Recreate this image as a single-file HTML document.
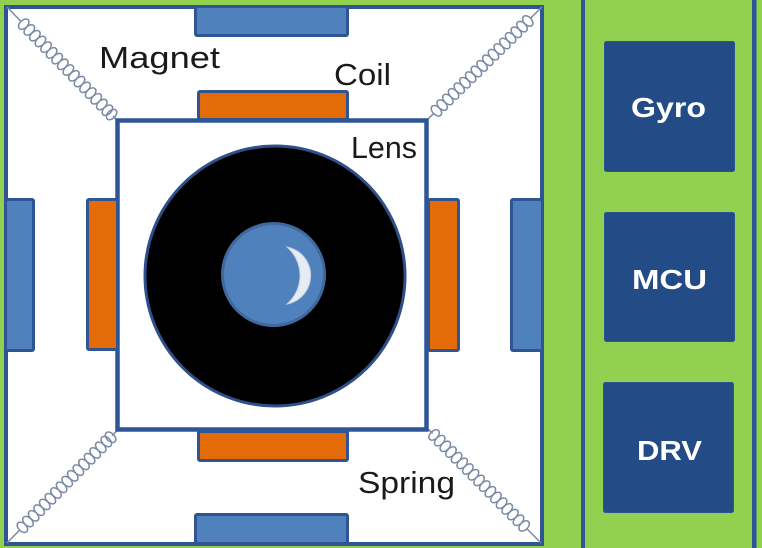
<!DOCTYPE html>
<html>
<head>
<meta charset="utf-8">
<style>
html,body{margin:0;padding:0;background:#92D050;}
svg{display:block;}
text{font-family:"Liberation Sans",sans-serif;}
</style>
</head>
<body>
<svg width="762" height="548" viewBox="0 0 762 548" xmlns="http://www.w3.org/2000/svg">
  <rect x="0" y="0" width="762" height="548" fill="#92D050"/>
  <!-- right panel lines -->
  <rect x="581" y="0" width="4" height="548" fill="#2F5597"/>
  <rect x="752" y="0" width="4.5" height="548" fill="#2F5597"/>
  <!-- outer square -->
  <rect x="6" y="7" width="536" height="537" fill="#ffffff" stroke="#2F5597" stroke-width="4"/>

  <!-- springs -->
  <g fill="none" stroke="#7A8AA3" stroke-width="1.5">
    <g transform="translate(7,7) rotate(45.8)">
      <line x1="0" y1="0" x2="20" y2="0"/>
      <line x1="152" y1="0" x2="158" y2="0"/>
      <ellipse cx="24" cy="0" rx="4" ry="6.2"/><ellipse cx="32" cy="0" rx="4" ry="6.2"/><ellipse cx="40" cy="0" rx="4" ry="6.2"/><ellipse cx="48" cy="0" rx="4" ry="6.2"/><ellipse cx="56" cy="0" rx="4" ry="6.2"/><ellipse cx="64" cy="0" rx="4" ry="6.2"/><ellipse cx="72" cy="0" rx="4" ry="6.2"/><ellipse cx="80" cy="0" rx="4" ry="6.2"/><ellipse cx="88" cy="0" rx="4" ry="6.2"/><ellipse cx="96" cy="0" rx="4" ry="6.2"/><ellipse cx="104" cy="0" rx="4" ry="6.2"/><ellipse cx="112" cy="0" rx="4" ry="6.2"/><ellipse cx="120" cy="0" rx="4" ry="6.2"/><ellipse cx="128" cy="0" rx="4" ry="6.2"/><ellipse cx="136" cy="0" rx="4" ry="6.2"/><ellipse cx="144" cy="0" rx="4" ry="6.2"/><ellipse cx="150" cy="0" rx="4" ry="6.2"/>
    </g>
    <g transform="translate(542,7) rotate(135.5)">
      <line x1="0" y1="0" x2="16" y2="0"/>
      <line x1="152" y1="0" x2="161" y2="0"/>
      <ellipse cx="20" cy="0" rx="4" ry="6.2"/><ellipse cx="28" cy="0" rx="4" ry="6.2"/><ellipse cx="36" cy="0" rx="4" ry="6.2"/><ellipse cx="44" cy="0" rx="4" ry="6.2"/><ellipse cx="52" cy="0" rx="4" ry="6.2"/><ellipse cx="60" cy="0" rx="4" ry="6.2"/><ellipse cx="68" cy="0" rx="4" ry="6.2"/><ellipse cx="76" cy="0" rx="4" ry="6.2"/><ellipse cx="84" cy="0" rx="4" ry="6.2"/><ellipse cx="92" cy="0" rx="4" ry="6.2"/><ellipse cx="100" cy="0" rx="4" ry="6.2"/><ellipse cx="108" cy="0" rx="4" ry="6.2"/><ellipse cx="116" cy="0" rx="4" ry="6.2"/><ellipse cx="124" cy="0" rx="4" ry="6.2"/><ellipse cx="132" cy="0" rx="4" ry="6.2"/><ellipse cx="140" cy="0" rx="4" ry="6.2"/><ellipse cx="148" cy="0" rx="4" ry="6.2"/>
    </g>
    <g transform="translate(7,543) rotate(-45.6)">
      <line x1="0" y1="0" x2="18" y2="0"/>
      <line x1="150" y1="0" x2="158" y2="0"/>
      <ellipse cx="22" cy="0" rx="4" ry="6.2"/><ellipse cx="30" cy="0" rx="4" ry="6.2"/><ellipse cx="38" cy="0" rx="4" ry="6.2"/><ellipse cx="46" cy="0" rx="4" ry="6.2"/><ellipse cx="54" cy="0" rx="4" ry="6.2"/><ellipse cx="62" cy="0" rx="4" ry="6.2"/><ellipse cx="70" cy="0" rx="4" ry="6.2"/><ellipse cx="78" cy="0" rx="4" ry="6.2"/><ellipse cx="86" cy="0" rx="4" ry="6.2"/><ellipse cx="94" cy="0" rx="4" ry="6.2"/><ellipse cx="102" cy="0" rx="4" ry="6.2"/><ellipse cx="110" cy="0" rx="4" ry="6.2"/><ellipse cx="118" cy="0" rx="4" ry="6.2"/><ellipse cx="126" cy="0" rx="4" ry="6.2"/><ellipse cx="134" cy="0" rx="4" ry="6.2"/><ellipse cx="142" cy="0" rx="4" ry="6.2"/><ellipse cx="148" cy="0" rx="4" ry="6.2"/>
    </g>
    <g transform="translate(541,543) rotate(-134.7)">
      <line x1="0" y1="0" x2="20" y2="0"/>
      <line x1="154" y1="0" x2="160" y2="0"/>
      <ellipse cx="24" cy="0" rx="4" ry="6.2"/><ellipse cx="32" cy="0" rx="4" ry="6.2"/><ellipse cx="40" cy="0" rx="4" ry="6.2"/><ellipse cx="48" cy="0" rx="4" ry="6.2"/><ellipse cx="56" cy="0" rx="4" ry="6.2"/><ellipse cx="64" cy="0" rx="4" ry="6.2"/><ellipse cx="72" cy="0" rx="4" ry="6.2"/><ellipse cx="80" cy="0" rx="4" ry="6.2"/><ellipse cx="88" cy="0" rx="4" ry="6.2"/><ellipse cx="96" cy="0" rx="4" ry="6.2"/><ellipse cx="104" cy="0" rx="4" ry="6.2"/><ellipse cx="112" cy="0" rx="4" ry="6.2"/><ellipse cx="120" cy="0" rx="4" ry="6.2"/><ellipse cx="128" cy="0" rx="4" ry="6.2"/><ellipse cx="136" cy="0" rx="4" ry="6.2"/><ellipse cx="144" cy="0" rx="4" ry="6.2"/><ellipse cx="152" cy="0" rx="4" ry="6.2"/>
    </g>
  </g>

  <!-- inner square -->
  <rect x="117.5" y="120.5" width="309" height="309" fill="#ffffff" stroke="#2F5597" stroke-width="4.5"/>

  <!-- magnets -->
  <g fill="#4F81BD" stroke="#2F5597" stroke-width="3">
    <rect x="195.5" y="6.5" width="152" height="29" rx="1.5"/>
    <rect x="195.5" y="514.5" width="152" height="29" rx="1.5"/>
    <rect x="5.5" y="199.5" width="28" height="151" rx="1.5"/>
    <rect x="511.5" y="199.5" width="31" height="151" rx="1.5"/>
  </g>
  <!-- coils -->
  <g fill="#E36C09" stroke="#2F5597" stroke-width="3">
    <rect x="198.5" y="91.5" width="149" height="28" rx="1.5"/>
    <rect x="198.5" y="431.5" width="149" height="29" rx="1.5"/>
    <rect x="87.5" y="199.5" width="30" height="150" rx="1.5"/>
    <rect x="428.5" y="199.5" width="30" height="151" rx="1.5"/>
  </g>

  <!-- lens -->
  <circle cx="275" cy="276" r="130" fill="#000000" stroke="#2E4F8A" stroke-width="3"/>
  <circle cx="273.5" cy="274.5" r="51" fill="#4F81BD" stroke="#41699F" stroke-width="3"/>
  <path d="M 287 247 A 29 29 0 0 1 287 304 A 37.7 37.7 0 0 0 287 247 Z" fill="#E6ECF4" stroke="#C4CEDD" stroke-width="1"/>

  <!-- labels -->
  <g fill="#1a1a1a" font-size="31">
    <text x="99" y="68" textLength="121" lengthAdjust="spacingAndGlyphs">Magnet</text>
    <text x="334" y="85" textLength="57" lengthAdjust="spacingAndGlyphs">Coil</text>
    <text x="351" y="158" textLength="66" lengthAdjust="spacingAndGlyphs">Lens</text>
    <text x="358" y="493" textLength="97" lengthAdjust="spacingAndGlyphs">Spring</text>
  </g>

  <!-- right boxes -->
  <g fill="#234C87" stroke="#2A5594" stroke-width="1">
    <rect x="604.5" y="41.5" width="130" height="130" rx="2"/>
    <rect x="604.5" y="212.5" width="130" height="129" rx="2"/>
    <rect x="603.5" y="382.5" width="130" height="130" rx="2"/>
  </g>
  <g fill="#ffffff" font-size="28" font-weight="bold">
    <text x="631" y="117" textLength="75" lengthAdjust="spacingAndGlyphs">Gyro</text>
    <text x="632" y="289" textLength="75" lengthAdjust="spacingAndGlyphs">MCU</text>
    <text x="637" y="460" textLength="65" lengthAdjust="spacingAndGlyphs">DRV</text>
  </g>
</svg>
</body>
</html>
